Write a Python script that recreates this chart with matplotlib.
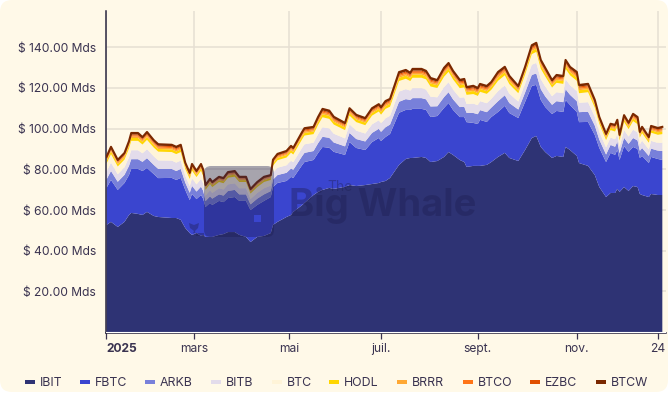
import numpy as np
import matplotlib
matplotlib.use('Agg')
import matplotlib.pyplot as plt
from matplotlib.patches import FancyBboxPatch, PathPatch, Polygon, Rectangle
from matplotlib.path import Path

plt.rcParams['font.family'] = ['Inter', 'DejaVu Sans']

# trading day index since 2 jan 2025
day = [0,2,5,8,10,11,14,16,18,21,
       23,29,31,33,35,37,38,40,42,43,
       44,46,47,50,52,54,57,59,62,64,
       67,70,73,74,76,80,82,83,87,88,
       92,94,96,99,101,106,108,111,115,118,
       121,122,124,126,130,133,135,136,140,142,
       144,147,150,152,154,157,159,160,163,165,
       166,169,171,174,177,179,183,186,189,191,
       193,195,198,200,203,204,206,209,210,214,
       217,219,222,224,226,227,228,230,232,234,
       236,237,238,241,242,245,247]

# assets in Mds of dollars
IBIT = [52.7,54.2,51.7,54.2,57.6,58.6,58.1,57.6,59.1,57.1,
        56.6,56.1,56.1,55.2,51.2,48.7,47.8,48.7,47.3,47.8,
        46.8,46.8,46.8,47.8,48.2,49.2,49.2,47.8,46.8,44.3,
        46.8,47.3,48.7,52.7,54.2,56.6,57.6,59.1,62.5,63.5,
        67.4,68.9,69.9,70.9,70.4,71.4,72.3,71.8,72.3,72.8,
        73.3,73.8,74.3,75.8,82.2,85.1,85.6,85.6,86.1,85.6,
        83.6,84.1,86.1,88.5,87.1,84.6,83.6,81.2,81.7,81.7,
        81.7,82.2,83.6,86.1,88.1,85.6,84.1,89.5,95.4,96.4,
        91.0,88.5,85.6,86.6,86.1,91.0,89.5,86.6,83.1,81.7,
        77.2,71.3,66.4,68.4,68.4,70.4,68.9,71.3,69.4,71.8,
        71.3,67.9,67.4,66.4,67.9,67.4,67.4]
FBTC = [18.2,20.6,18.2,19.1,19.6,21.6,22.1,21.6,21.6,20.6,
        19.1,19.7,18.7,20.6,18.7,16.2,20.1,16.7,20.1,17.7,
        14.7,16.7,15.7,16.7,15.7,16.7,17.2,16.7,17.7,15.7,
        15.7,17.2,17.7,18.7,19.1,17.7,18.7,16.7,19.7,20.1,
        17.2,19.1,21.1,19.7,18.2,15.7,21.1,18.7,17.2,20.6,
        22.1,20.1,21.6,21.6,25.6,24.1,23.6,24.1,23.6,23.6,
        22.1,22.1,24.1,24.1,22.1,21.1,22.1,22.0,21.1,20.6,
        22.6,21.1,22.1,22.1,23.1,22.1,21.1,23.6,25.6,25.1,
        23.1,22.1,21.6,22.1,22.1,23.1,22.1,21.6,20.1,21.6,
        19.7,19.2,17.2,19.7,18.7,19.2,15.7,20.1,19.2,19.2,
        18.7,17.7,19.2,16.7,18.2,17.7,17.2]
ARKB = [4.1,4.4,4.0,4.0,4.5,4.8,4.8,4.5,4.8,4.5,
        4.5,4.4,4.4,4.4,3.6,3.6,4.0,3.7,4.1,3.9,
        2.9,3.2,3.1,3.2,3.2,3.5,3.5,3.2,3.2,2.8,
        3.1,3.2,2.9,3.6,3.9,4.0,4.1,4.0,4.4,4.5,
        4.4,4.8,5.0,4.9,4.6,4.2,4.5,4.4,4.2,4.5,
        4.5,4.5,4.8,4.6,5.4,5.3,4.9,5.3,5.3,5.2,
        5.2,4.8,5.3,5.3,5.2,4.9,5.0,4.6,4.9,4.8,
        4.8,4.8,4.6,5.3,5.2,4.9,4.2,4.6,5.4,5.6,
        5.3,5.2,4.5,4.8,4.8,5.3,5.0,5.3,4.9,5.0,
        4.6,4.1,3.7,3.9,4.0,4.0,3.3,4.1,3.9,4.4,
        4.2,3.5,3.9,3.5,4.1,4.1,4.4]
BITB = [3.8,4.1,3.7,3.7,4.2,4.4,4.4,4.2,4.4,4.2,
        4.2,4.1,4.1,4.1,3.3,3.3,3.7,3.5,3.8,3.6,
        2.7,3.0,2.8,3.0,3.0,3.2,3.2,3.0,3.0,2.6,
        2.8,3.0,2.7,3.3,3.6,3.7,3.8,3.7,4.1,4.2,
        4.1,4.4,4.7,4.6,4.3,3.9,4.2,4.1,3.9,4.2,
        4.2,4.2,4.4,4.3,5.0,4.9,4.6,4.9,4.9,4.8,
        4.8,4.4,4.9,4.9,4.8,4.6,4.7,4.3,4.6,4.4,
        4.4,4.4,4.3,4.9,4.8,4.6,3.9,4.3,5.0,5.2,
        4.9,4.8,4.2,4.4,4.4,4.9,4.7,4.9,4.6,4.7,
        4.3,3.8,3.5,3.6,3.7,3.7,3.1,3.8,3.6,4.1,
        3.9,3.2,3.6,3.2,3.8,3.8,4.1]
BTC = [4.0,4.2,3.8,3.8,4.3,4.6,4.6,4.3,4.6,4.3,
       4.3,4.2,4.2,4.2,3.5,3.5,3.8,3.6,4.0,3.7,
       2.8,3.1,2.9,3.1,3.1,3.3,3.3,3.1,3.1,2.7,
       2.9,3.1,2.8,3.5,3.7,3.8,4.0,3.8,4.2,4.3,
       4.2,4.6,4.9,4.7,4.5,4.1,4.3,4.2,4.1,4.3,
       4.3,4.3,4.6,4.5,5.2,5.1,4.7,5.1,5.1,5.0,
       5.0,4.6,5.1,5.1,5.0,4.7,4.9,4.5,4.7,4.6,
       4.6,4.6,4.5,5.1,5.0,4.7,4.1,4.5,5.2,5.4,
       5.1,5.0,4.3,4.6,4.6,5.1,4.9,5.1,4.7,4.9,
       4.5,4.0,3.6,3.7,3.8,3.8,3.2,4.0,3.7,4.2,
       4.1,3.3,3.7,3.3,4.0,4.0,4.2]
HODL = [1.2,1.3,1.2,1.2,1.3,1.4,1.4,1.3,1.4,1.3,
        1.3,1.3,1.3,1.3,1.1,1.1,1.2,1.1,1.2,1.1,
        .9,.9,.9,.9,.9,1.0,1.0,.9,.9,.8,
        .9,.9,.9,1.1,1.1,1.2,1.2,1.2,1.3,1.3,
        1.3,1.4,1.5,1.5,1.4,1.3,1.3,1.3,1.3,1.3,
        1.3,1.3,1.4,1.4,1.6,1.6,1.5,1.6,1.6,1.5,
        1.5,1.4,1.6,1.6,1.5,1.5,1.5,1.4,1.5,1.4,
        1.4,1.4,1.4,1.6,1.5,1.5,1.3,1.4,1.6,1.6,
        1.6,1.5,1.3,1.4,1.4,1.6,1.5,1.6,1.5,1.5,
        1.4,1.2,1.1,1.1,1.2,1.2,1.0,1.2,1.1,1.3,
        1.3,1.0,1.1,1.0,1.2,1.2,1.3]
BRRR = [.61,.65,.59,.59,.67,.71,.71,.67,.71,.67,
        .67,.65,.65,.65,.53,.53,.59,.55,.61,.57,
        .43,.47,.45,.47,.47,.51,.51,.47,.47,.41,
        .45,.47,.43,.53,.57,.59,.61,.59,.65,.67,
        .65,.71,.75,.73,.69,.63,.67,.65,.63,.67,
        .67,.67,.71,.69,.80,.79,.73,.79,.79,.77,
        .77,.71,.79,.79,.77,.73,.75,.69,.73,.71,
        .71,.71,.69,.79,.77,.73,.63,.69,.80,.82,
        .79,.77,.67,.71,.71,.79,.75,.79,.73,.75,
        .69,.61,.55,.57,.59,.59,.49,.61,.57,.65,
        .63,.51,.57,.51,.61,.61,.65]
BTCO = [.46,.49,.44,.44,.50,.53,.53,.50,.53,.50,
        .50,.49,.49,.49,.40,.40,.44,.41,.46,.43,
        .32,.35,.34,.35,.35,.38,.38,.35,.35,.31,
        .34,.35,.32,.40,.43,.44,.46,.44,.49,.50,
        .49,.53,.56,.55,.52,.47,.50,.49,.47,.50,
        .50,.50,.53,.52,.60,.59,.55,.59,.59,.58,
        .58,.53,.59,.59,.58,.55,.56,.52,.55,.53,
        .53,.53,.52,.59,.58,.55,.47,.52,.60,.62,
        .59,.58,.50,.53,.53,.59,.56,.59,.55,.56,
        .52,.46,.41,.43,.44,.44,.37,.46,.43,.49,
        .47,.38,.43,.38,.46,.46,.49]
EZBC = [.46,.49,.44,.44,.50,.53,.53,.50,.53,.50,
        .50,.49,.49,.49,.40,.40,.44,.41,.46,.43,
        .32,.35,.34,.35,.35,.38,.38,.35,.35,.31,
        .34,.35,.32,.40,.43,.44,.46,.44,.49,.50,
        .49,.53,.56,.55,.52,.47,.50,.49,.47,.50,
        .50,.50,.53,.52,.60,.59,.55,.59,.59,.58,
        .58,.53,.59,.59,.58,.55,.56,.52,.55,.53,
        .53,.53,.52,.59,.58,.55,.47,.52,.60,.62,
        .59,.58,.50,.53,.53,.59,.56,.59,.55,.56,
        .52,.46,.41,.43,.44,.44,.37,.46,.43,.49,
        .47,.38,.43,.38,.46,.46,.49]
BTCW = [.61,.65,.59,.59,.67,.71,.71,.67,.71,.67,
        .67,.65,.65,.65,.53,.53,.59,.55,.61,.57,
        .43,.47,.45,.47,.47,.51,.51,.47,.47,.41,
        .45,.47,.43,.53,.57,.59,.61,.59,.65,.67,
        .65,.71,.75,.73,.69,.63,.67,.65,.63,.67,
        .67,.67,.71,.69,.80,.79,.73,.79,.79,.77,
        .77,.71,.79,.79,.77,.73,.75,.69,.73,.71,
        .71,.71,.69,.79,.77,.73,.63,.69,.80,.82,
        .79,.77,.67,.71,.71,.79,.75,.79,.73,.75,
        .69,.61,.55,.57,.59,.59,.49,.61,.57,.65,
        .63,.51,.57,.51,.61,.61,.65]

names = ['IBIT','FBTC','ARKB','BITB','BTC','HODL','BRRR','BTCO','EZBC','BTCW']
colors = ['#2E3374','#3A45CF','#7880DA','#E3DCEB','#FFF4D8','#FFD600','#FFA833','#FF7518','#E04F00','#7A2800']
series = [IBIT,FBTC,ARKB,BITB,BTC,HODL,BRRR,BTCO,EZBC,BTCW]

y_ticks = [20,40,60,80,100,120,140]
x_ticks = [0,39,81,122,165,209,245]
x_labels = ['2025','mars','mai','juil.','sept.','nov.','24']

bg = '#FFF9E8'
ink = '#3A3350'
grid = '#E6DFD2'
W, H = 668, 394

fig = plt.figure(figsize=(W/100, H/100), dpi=100, facecolor='white')

# page card with rounded corners + overlay in pixels for watermark and legend
ov = fig.add_axes([0,0,1,1], zorder=0)
ov.set_xlim(0,W); ov.set_ylim(H,0); ov.axis('off')
ov.add_patch(FancyBboxPatch((10,10),W-20,H-22,boxstyle='round,pad=10,rounding_size=12',fc=bg,ec='none'))

ax = fig.add_axes([105.5/W, (H-333)/H, (665.7-105.5)/W, 322/H], zorder=1)
ax.patch.set_alpha(0)
ax.stackplot(day, series, colors=colors, linewidth=0, zorder=2)
ax.plot(day, np.sum(series,axis=0), color='#7A2800', lw=1.5, solid_joinstyle='round', zorder=3)
ax.axhline(-0.1, color='white', lw=0.8, zorder=3)

ax.set_xlim(-0.44,248.5)
ax.set_ylim(-0.4,157.8)
ax.set_yticks(y_ticks)
ax.set_yticklabels(['$ %.2f Mds' % v for v in y_ticks])
ax.set_xticks(x_ticks)
ax.set_xticklabels(x_labels)
ax.grid(True,color=grid,lw=1.1,zorder=1)
ax.set_axisbelow(True)
ax.tick_params(axis='y',length=0,pad=7,labelsize=8.7,labelcolor=ink)
ax.tick_params(axis='x',length=4,width=0.9,color=ink,pad=3.5,labelsize=8.7,labelcolor=ink)
lab0 = ax.get_xticklabels()[0]
lab0.set_ha('left'); lab0.set_fontweight('bold')
for s in ['top','right']:
    ax.spines[s].set_visible(False)
for s in ['left','bottom']:
    ax.spines[s].set_color('#2B2740')
    ax.spines[s].set_linewidth(1.1)

# watermark on top of the chart
wm = fig.add_axes([0,0,1,1], zorder=2)
wm.set_xlim(0,W); wm.set_ylim(H,0); wm.axis('off'); wm.patch.set_alpha(0)
wm_col = '#1E1E50'
box = FancyBboxPatch((210,172),58,59,boxstyle='round,pad=6,rounding_size=7')
hole = Path([(254,215),(254,222),(261,222),(261,215),(254,215)],closed=True)
wm.add_patch(PathPatch(Path.make_compound_path(box.get_path().transformed(box.get_transform()),hole),fc=wm_col,ec='none',alpha=0.39))
wm.add_patch(Polygon([(189,223),(194,225),(199,223),(198,228),(195,231),(196,236),(204,236),(204,233),(193,233),(194,231),(190,228)],fc=wm_col,ec='none',alpha=0.39))
wm.text(289,216,'Big Whale',fontsize=27.5,fontweight='bold',color=wm_col,alpha=0.39,ha='left',va='baseline')
wm.text(327,191,'The',fontsize=10,color=wm_col,alpha=0.39,ha='left',va='baseline')

# legend
leg_x = [25,80,145,211,272,329,397,463,530,596]
for x,name,c in zip(leg_x,names,colors):
    wm.add_patch(Rectangle((x,380),10,4,fc=c,ec='none'))
    wm.text(x+15,382.5,name,fontsize=8.9,color=ink,ha='left',va='center')

fig.savefig('out.png',dpi=100,facecolor=fig.get_facecolor())
